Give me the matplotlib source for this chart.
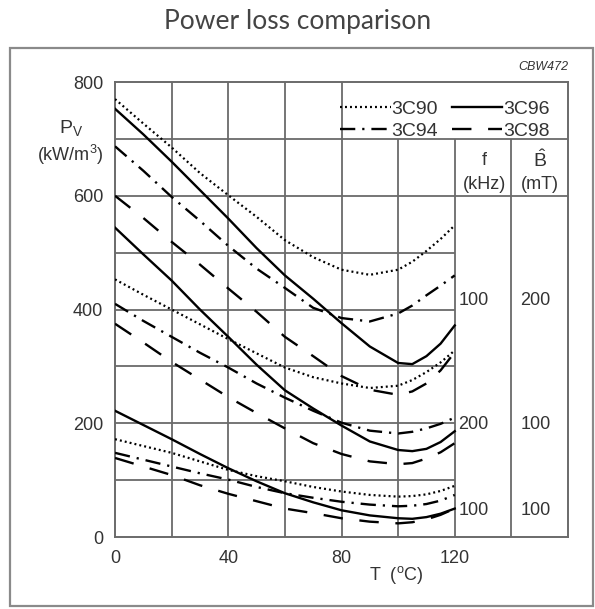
import matplotlib
matplotlib.use("Agg")
import matplotlib.pyplot as plt
from matplotlib.patches import Rectangle

plt.rcParams["font.family"] = ["Liberation Sans", "DejaVu Sans"]
plt.rcParams["mathtext.fontset"] = "custom"
plt.rcParams["mathtext.rm"] = "Liberation Sans"
plt.rcParams["mathtext.it"] = "Liberation Sans:italic"
plt.rcParams["lines.scale_dashes"] = False

temp = [0, 10, 20, 30, 40, 50, 60, 70, 80, 90, 100, 105, 110, 115, 120]

# 100 kHz, 200 mT
g1_3c90 = [770, 727, 685, 640, 601, 563, 522, 492, 470, 461, 470, 484, 503, 524, 548]
g1_3c96 = [753, 708, 660, 610, 560, 508, 460, 419, 376, 335, 306, 304, 318, 340, 372]
g1_3c94 = [687, 644, 598, 556, 512, 472, 438, 403, 385, 379, 393, 407, 425, 442, 460]
g1_3c98 = [600, 561, 519, 479, 437, 396, 352, 318, 283, 259, 250, 256, 270, 293, 325]

# 200 kHz, 100 mT
g2_3c90 = [453, 426, 400, 374, 348, 323, 298, 281, 270, 262, 266, 276, 290, 307, 328]
g2_3c96 = [544, 497, 451, 400, 352, 303, 258, 226, 196, 168, 153, 151, 155, 167, 186]
g2_3c94 = [410, 380, 352, 324, 298, 270, 245, 222, 201, 187, 182, 185, 191, 199, 210]
g2_3c98 = [375, 342, 308, 277, 246, 218, 191, 165, 146, 133, 128, 130, 138, 149, 165]

# 100 kHz, 100 mT
g3_3c90 = [172, 160, 148, 133, 118, 107, 98, 88, 80, 74, 71, 72, 75, 81, 90]
g3_3c96 = [222, 197, 172, 146, 121, 98, 77, 61, 47, 38, 33, 32, 35, 41, 50]
g3_3c94 = [148, 136, 124, 112, 101, 88, 77, 69, 62, 57, 54, 55, 58, 64, 74]
g3_3c98 = [139, 124, 109, 91, 76, 63, 50, 42, 33, 27, 24, 26, 31, 39, 50]

materials = ["3C90", "3C94", "3C96", "3C98"]
groups = [
    {"3C90": g1_3c90, "3C94": g1_3c94, "3C96": g1_3c96, "3C98": g1_3c98},
    {"3C90": g2_3c90, "3C94": g2_3c94, "3C96": g2_3c96, "3C98": g2_3c98},
    {"3C90": g3_3c90, "3C94": g3_3c94, "3C96": g3_3c96, "3C98": g3_3c98},
]
freq_khz = ["100", "200", "100"]
bpeak_mt = ["200", "100", "100"]

styles = {
    "3C90": dict(linestyle=(0, (1.4, 2.2)), linewidth=1.6),
    "3C94": dict(linestyle=(0, (11, 5, 1.6, 5)), linewidth=1.7),
    "3C96": dict(linestyle="-", linewidth=1.7),
    "3C98": dict(linestyle=(0, (14, 12)), linewidth=1.7),
}

GRID = "#6a6a6a"
TXT = "#333333"

fig = plt.figure(figsize=(5.95, 6.09), dpi=100)
ax = fig.add_axes([0.1933, 0.1182, 0.7613, 0.7471])
ax.set_xlim(0, 160)
ax.set_ylim(0, 800)

# grid, partly cut off by legend box and table on the right
ax.hlines([100, 200, 300, 400, 500], 0, 120, color=GRID, lw=1.3, zorder=1)
ax.hlines([600, 700], 0, 160, color=GRID, lw=1.3, zorder=1)
ax.vlines([20, 40, 60, 80], 0, 800, color=GRID, lw=1.3, zorder=1)
ax.vlines([100, 120, 140], 0, 700, color=GRID, lw=1.3, zorder=1)
for s in ax.spines.values():
    s.set_color(GRID)
    s.set_linewidth(1.4)

for grp in groups:
    for m in materials:
        ax.plot(temp, grp[m], color="black", zorder=3, **styles[m])

ax.set_xticks([0, 40, 80, 120])
ax.set_yticks([0, 200, 400, 600, 800])
ax.tick_params(length=0, labelsize=13, colors=TXT)
ax.tick_params(axis="x", pad=9)
ax.tick_params(axis="y", pad=8.5)

ax.set_xlabel(r"T  ($^{\mathrm{o}}$C)", fontsize=13, color=TXT)
ax.xaxis.set_label_coords(0.62, -0.06)
ax.text(-0.097, 0.9, r"P$_{\mathrm{V}}$", transform=ax.transAxes,
        ha="center", va="center", fontsize=14, color=TXT)
ax.text(-0.099, 0.84, r"(kW/m$^{3}$)", transform=ax.transAxes,
        ha="center", va="center", fontsize=13, color=TXT)

# legend handles
handles = []
for m in materials:
    h, = ax.plot([], [], color="black", **styles[m])
    handles.append(h)
ax.legend(handles, materials, ncol=2, loc="upper right",
          bbox_to_anchor=(0.99, 0.99), frameon=False, fontsize=14,
          handlelength=2.6, handletextpad=0.05, columnspacing=0.7,
          labelspacing=0.25, borderpad=0.2, labelcolor=TXT)

# table on the right
ax.text(130.5, 662, "f", ha="center", va="center", fontsize=13, color=TXT)
ax.text(130.5, 619, "(kHz)", ha="center", va="center", fontsize=13, color=TXT)
ax.text(150, 663, r"$\hat{\mathrm{B}}$", ha="center", va="center", fontsize=14, color=TXT)
ax.text(150, 619, "(mT)", ha="center", va="center", fontsize=13, color=TXT)
row_y = [415, 197, 47]
for f, b, y in zip(freq_khz, bpeak_mt, row_y):
    ax.text(121.3, y, f, ha="left", va="center", fontsize=13, color=TXT)
    ax.text(148.5, y, b, ha="center", va="center", fontsize=13, color=TXT)

ax.text(1.0, 1.033, "CBW472", transform=ax.transAxes, ha="right", va="center",
        fontsize=9, style="italic", color=TXT)

fig.text(0.5, 1 - 21 / 609, "Power loss comparison", ha="center", va="center",
         fontsize=19, family=["Lato", "DejaVu Sans"], color="#444444")
fig.patches.append(Rectangle((10 / 595, 1 - 606 / 609), 583 / 595, 558 / 609,
                             transform=fig.transFigure, fill=False,
                             ec="#8a8a8a", lw=1.6))

fig.savefig("out.png", dpi=100)
